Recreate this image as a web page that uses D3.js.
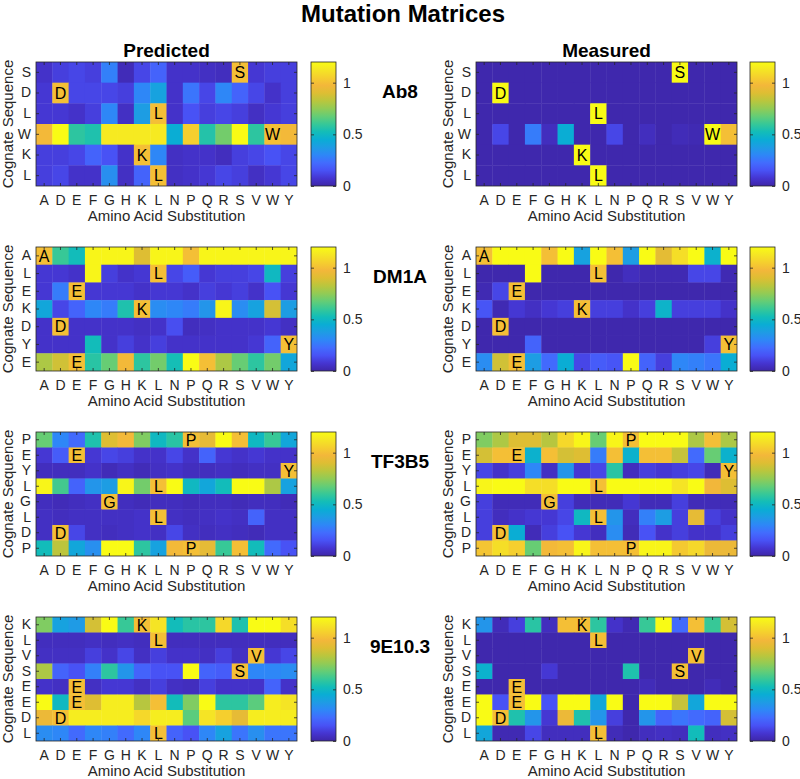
<!DOCTYPE html>
<html><head><meta charset="utf-8">
<script src="https://cdn.jsdelivr.net/npm/d3@7"></script>
<style>body{margin:0;background:#fff}svg{display:block;font-family:"Liberation Sans",Arial,Helvetica,sans-serif}</style>
</head><body><svg id="chart" width="800" height="779"></svg>
<script>
// ---------- DATA ----------
const chartTitle = "Mutation Matrices";
const columnTitles = ["Predicted", "Measured"];
const xAxisLabel = "Amino Acid Substitution";
const yAxisLabel = "Cognate Sequence";
const aminoAcids = ["A","D","E","F","G","H","K","L","N","P","Q","R","S","V","W","Y"];
const antibodies = ["Ab8","DM1A","TF3B5","9E10.3"];
const colorTicks = [0, 0.5, 1];
const colorMax = 1.2;

const ab8Seq = ["S","D","L","W","K","L"];
const ab8Pred = [
 [0.06,0.10,0.12,0.10,0.28,0.03,0.12,0.20,0.06,0.06,0.05,0.04,1.00,0.08,0.10,0.10],
 [0.08,1.00,0.12,0.12,0.12,0.10,0.30,0.40,0.06,0.25,0.12,0.30,0.20,0.12,0.06,0.10],
 [0.08,0.08,0.06,0.10,0.30,0.05,0.38,1.00,0.06,0.15,0.10,0.12,0.10,0.05,0.08,0.10],
 [0.98,1.20,0.58,0.55,1.14,1.14,1.14,1.14,0.45,1.05,0.56,0.70,1.20,0.58,1.00,0.98],
 [0.10,0.10,0.12,0.20,0.15,0.06,1.00,0.30,0.05,0.06,0.06,0.04,0.10,0.12,0.15,0.12],
 [0.10,0.12,0.06,0.06,0.33,0.05,0.20,1.00,0.05,0.06,0.08,0.12,0.10,0.05,0.08,0.12]
];
const ab8Meas = [
 [0.01,0.01,0.01,0.01,0.01,0.01,0.01,0.01,0.01,0.01,0.01,0.01,1.20,0.01,0.01,0.01],
 [0.01,1.20,0.01,0.01,0.01,0.01,0.01,0.01,0.01,0.01,0.01,0.01,0.01,0.01,0.01,0.01],
 [0.01,0.01,0.01,0.01,0.01,0.01,0.01,1.20,0.01,0.01,0.01,0.01,0.01,0.01,0.01,0.01],
 [0.01,0.12,0.01,0.27,0.04,0.45,0.01,0.01,0.12,0.01,0.04,0.01,0.03,0.02,1.20,1.00],
 [0.01,0.01,0.01,0.01,0.01,0.01,1.20,0.01,0.01,0.01,0.01,0.01,0.01,0.01,0.01,0.01],
 [0.01,0.01,0.01,0.01,0.01,0.01,0.01,1.20,0.01,0.01,0.01,0.01,0.01,0.01,0.01,0.01]
];

const dm1aSeq = ["A","L","E","K","D","Y","E"];
const dm1aPred = [
 [1.00,0.60,0.52,1.18,1.18,1.18,0.90,1.18,1.18,1.00,1.18,1.18,1.18,1.18,1.18,1.18],
 [0.08,0.08,0.06,1.18,0.10,0.06,0.08,1.00,0.12,0.18,0.08,0.10,0.10,0.12,0.50,0.10],
 [0.08,0.27,1.00,0.08,0.08,0.08,0.06,0.08,0.08,0.06,0.10,0.08,0.10,0.06,0.15,0.08],
 [0.42,0.12,0.20,0.30,0.27,0.55,1.00,0.32,0.30,0.27,0.35,1.18,0.32,0.40,0.88,0.38],
 [0.06,1.00,0.06,0.06,0.06,0.06,0.05,0.06,0.14,0.04,0.05,0.06,0.06,0.06,0.08,0.05],
 [0.06,0.06,0.06,0.52,0.06,0.10,0.06,0.10,0.06,0.06,0.06,0.06,0.06,0.08,0.20,1.00],
 [0.80,0.87,1.00,0.57,0.68,0.98,0.58,0.70,0.53,1.20,1.00,0.80,0.68,0.58,0.70,0.42]
];
const dm1aMeas = [
 [1.00,1.20,1.20,1.20,1.00,1.20,0.40,1.20,1.00,0.38,1.20,0.92,1.10,1.20,0.47,1.20],
 [0.01,0.01,0.01,1.20,0.01,0.01,0.01,1.00,0.01,0.04,0.02,0.02,0.02,0.12,0.12,0.02],
 [0.02,0.12,1.00,0.01,0.01,0.01,0.01,0.01,0.01,0.01,0.01,0.01,0.01,0.01,0.01,0.01],
 [0.16,0.02,0.08,0.05,0.08,0.10,1.00,0.10,0.10,0.06,0.10,0.48,0.10,0.10,0.10,0.06],
 [0.01,1.00,0.01,0.01,0.01,0.01,0.01,0.01,0.01,0.01,0.01,0.01,0.01,0.01,0.01,0.01],
 [0.01,0.01,0.01,0.20,0.01,0.01,0.01,0.01,0.01,0.01,0.01,0.01,0.01,0.01,0.10,1.00],
 [0.32,0.87,1.00,0.38,0.22,0.45,0.12,0.18,0.16,1.20,0.20,0.10,0.30,0.28,0.25,0.45]
];

const tf3b5Seq = ["P","E","Y","L","G","L","D","P"];
const tf3b5Pred = [
 [0.68,0.30,0.22,0.55,0.90,0.98,0.72,0.50,0.57,1.00,0.93,1.20,1.00,0.50,0.60,0.42],
 [0.08,0.18,1.00,0.08,0.12,0.10,0.06,0.06,0.12,0.06,0.20,0.08,0.06,0.08,0.06,0.06],
 [0.04,0.04,0.04,0.06,0.03,0.05,0.03,0.05,0.06,0.04,0.04,0.05,0.04,0.05,0.05,1.00],
 [1.18,0.62,0.20,0.35,0.38,1.18,0.70,1.00,1.20,0.50,0.42,0.52,1.20,1.20,0.80,0.40],
 [0.04,0.03,0.04,0.05,1.00,0.04,0.03,0.04,0.04,0.03,0.04,0.04,0.03,0.04,0.04,0.03],
 [0.05,0.04,0.05,0.05,0.05,0.05,0.06,1.00,0.05,0.04,0.05,0.06,0.05,0.20,0.05,0.05],
 [0.05,1.00,0.12,0.05,0.04,0.05,0.06,0.05,0.12,0.05,0.04,0.05,0.04,0.03,0.05,0.05],
 [0.52,0.83,0.42,0.33,1.20,1.20,0.58,0.40,0.98,1.00,0.93,0.60,1.00,0.52,0.22,0.15]
];
const tf3b5Meas = [
 [0.72,0.80,0.90,0.90,0.82,1.08,1.18,0.68,1.18,1.00,1.20,1.20,1.20,0.80,1.00,0.80],
 [0.88,1.00,1.00,0.47,1.00,0.88,0.90,0.27,1.00,0.47,1.00,1.00,0.85,0.22,0.68,0.47],
 [0.12,0.06,0.10,0.30,0.05,0.35,0.08,0.12,0.57,0.04,0.10,0.08,0.10,0.12,0.03,1.00],
 [1.18,1.20,1.20,1.10,1.10,1.20,1.20,1.00,1.20,1.20,1.20,1.20,1.12,1.20,0.97,0.90],
 [0.10,0.03,0.03,0.03,1.00,0.10,0.03,0.03,0.03,0.08,0.03,0.03,0.10,0.03,0.03,0.03],
 [0.10,0.04,0.06,0.08,0.08,0.12,0.50,1.00,0.35,0.04,0.28,0.38,0.10,0.93,0.10,0.06],
 [0.10,1.00,0.45,0.03,0.10,0.15,0.08,0.04,0.32,0.03,0.15,0.06,0.10,0.06,0.06,0.10],
 [1.02,1.10,1.05,0.68,0.98,1.00,1.18,1.00,1.00,1.00,1.18,1.18,1.03,1.08,0.95,0.95]
];

const e9e10Seq = ["K","L","V","S","E","E","D","L"];
const e9e10Pred = [
 [0.72,0.40,0.37,0.88,1.20,0.60,1.00,1.12,0.52,0.57,0.58,1.08,0.55,1.20,1.20,1.10],
 [0.04,0.04,0.04,0.05,0.04,0.05,0.04,1.00,0.04,0.04,0.04,0.04,0.04,0.04,0.04,0.04],
 [0.05,0.05,0.05,0.10,0.06,0.12,0.05,0.10,0.06,0.06,0.05,0.10,0.05,1.00,0.08,0.12],
 [0.80,0.20,0.15,0.28,0.58,0.35,0.20,0.15,0.15,1.20,0.20,0.18,1.00,0.30,0.30,0.32],
 [0.06,0.05,1.00,0.05,0.08,0.08,0.05,0.10,0.05,0.04,0.10,0.06,0.06,0.06,0.20,0.06],
 [1.20,0.50,1.00,0.90,1.15,1.15,0.82,1.00,0.52,0.72,1.20,0.58,0.58,0.66,1.15,1.12],
 [0.95,1.00,1.15,1.15,1.15,1.15,1.08,1.15,1.15,0.66,1.12,1.05,0.93,1.15,1.15,1.15],
 [0.32,0.30,0.22,0.30,0.28,0.22,0.30,1.00,0.20,0.15,0.30,0.40,0.25,0.33,0.25,0.25]
];
const e9e10Meas = [
 [0.35,0.03,0.10,0.57,0.04,1.00,1.00,0.58,0.06,0.02,0.60,1.20,0.22,1.00,0.60,0.88],
 [0.01,0.01,0.01,0.01,0.01,0.01,0.01,1.00,0.01,0.01,0.01,0.01,0.01,0.01,0.01,0.01],
 [0.01,0.01,0.01,0.01,0.01,0.01,0.01,0.01,0.01,0.01,0.01,0.01,0.01,1.00,0.01,0.01],
 [0.47,0.01,0.01,0.01,0.08,0.01,0.01,0.01,0.01,0.55,0.01,0.01,1.00,0.01,0.01,0.01],
 [0.01,0.01,1.00,0.01,0.01,0.01,0.01,0.01,0.01,0.01,0.03,0.01,0.01,0.01,0.03,0.01],
 [1.20,0.15,1.00,1.20,0.15,1.20,1.20,0.42,1.20,0.01,1.20,1.20,0.85,0.42,1.20,1.20],
 [1.20,1.00,0.55,0.35,0.08,0.95,0.55,0.35,0.10,0.01,0.35,0.20,0.25,0.22,0.20,0.88],
 [0.42,0.02,0.02,0.12,0.04,0.04,0.04,1.00,0.03,0.01,0.04,0.05,0.04,0.52,0.04,0.05]
];

// ---------- COLORMAP (parula-like) ----------
const parula = [[62,38,168],[69,53,209],[72,82,245],[66,108,254],[46,135,247],[30,156,228],[10,173,212],[19,189,184],[55,200,151],[100,205,118],[146,203,85],[186,198,61],[222,190,51],[243,183,58],[245,207,46],[245,230,36],[249,251,21]];
const color = d3.scaleLinear()
  .domain(parula.map((c,i)=> i/(parula.length-1)*colorMax))
  .range(parula.map(c=>`rgb(${c.join(",")})`))
  .clamp(true);

// ---------- LAYOUT ----------
const panels = [
  {name: antibodies[0], seq: ab8Seq, mats: [ab8Pred, ab8Meas]},
  {name: antibodies[1], seq: dm1aSeq, mats: [dm1aPred, dm1aMeas]},
  {name: antibodies[2], seq: tf3b5Seq, mats: [tf3b5Pred, tf3b5Meas]},
  {name: antibodies[3], seq: e9e10Seq, mats: [e9e10Pred, e9e10Meas]}
];
const plotW = 261, plotH = 124;
const colLeft = [36, 476];
const rowTop = [62, 247, 432, 617];
const cbLeft = [311, 750], cbW = 25;
const ink = "#262626";

const svg = d3.select("#chart");
svg.append("rect").attr("width",800).attr("height",779).attr("fill","#fff");

const defs = svg.append("defs");
const grad = defs.append("linearGradient").attr("id","parulaGrad")
  .attr("x1",0).attr("y1",1).attr("x2",0).attr("y2",0);
parula.forEach((c,i)=> grad.append("stop").attr("offset", i/(parula.length-1)).attr("stop-color", `rgb(${c.join(",")})`));

svg.append("text").attr("x",403).attr("y",22).attr("text-anchor","middle")
  .attr("font-size",24).attr("font-weight","bold").attr("fill","#000").text(chartTitle);
columnTitles.forEach((t,i)=>{
  svg.append("text").attr("x",colLeft[i]+plotW/2).attr("y",57).attr("text-anchor","middle")
    .attr("font-size",19).attr("font-weight","bold").attr("fill","#000").text(t);
});

function styleAxis(g){
  g.attr("font-family",null).attr("font-size",null);
  g.select(".domain").remove();
  g.selectAll(".tick line").attr("stroke",ink).attr("stroke-width",0.8);
  g.selectAll(".tick text").attr("fill",ink).attr("font-size",14);
}

panels.forEach((p,pi)=>{
  const top = rowTop[pi];
  const y = d3.scaleBand().domain(d3.range(p.seq.length)).range([top, top+plotH]);
  svg.append("text").attr("x",400).attr("y",top+36).attr("text-anchor","middle")
    .attr("font-size",19).attr("font-weight","bold").attr("fill","#000").text(p.name);

  p.mats.forEach((mat,mi)=>{
    const left = colLeft[mi];
    const x = d3.scaleBand().domain(aminoAcids).range([left, left+plotW]);
    const g = svg.append("g");
    const cells = mat.flatMap((row,ri)=> row.map((v,ci)=>({ri, v, res:p.seq[ri], aa:aminoAcids[ci]})));
    g.selectAll("rect.cell").data(cells).join("rect").attr("class","cell")
      .attr("x",d=>x(d.aa)).attr("y",d=>y(d.ri))
      .attr("width",d=> x.bandwidth() + (d.aa==="Y"?0:0.4))
      .attr("height",d=> y.bandwidth() + (d.ri===p.seq.length-1?0:0.4))
      .attr("fill",d=>color(d.v));
    g.selectAll("text.cog").data(cells.filter(d=>d.res===d.aa)).join("text").attr("class","cog")
      .attr("x",d=>x(d.aa)+x.bandwidth()/2).attr("y",d=>y(d.ri)+y.bandwidth()/2)
      .attr("dy","0.36em").attr("text-anchor","middle").attr("font-size",16).attr("fill","#000")
      .text(d=>d.aa);

    g.append("g").attr("transform",`translate(0,${top+plotH})`)
      .call(d3.axisBottom(x).tickSizeInner(-3).tickSizeOuter(0).tickPadding(9)).call(styleAxis);
    g.append("g").attr("transform",`translate(0,${top})`)
      .call(d3.axisTop(x).tickSizeInner(-3).tickSizeOuter(0).tickFormat("")).call(styleAxis);
    g.append("g").attr("transform",`translate(${left},0)`)
      .call(d3.axisLeft(y).tickSizeInner(-3).tickSizeOuter(0).tickPadding(5).tickFormat(i=>p.seq[i])).call(styleAxis);
    g.append("g").attr("transform",`translate(${left+plotW},0)`)
      .call(d3.axisRight(y).tickSizeInner(-3).tickSizeOuter(0).tickFormat("")).call(styleAxis);
    g.append("rect").attr("x",left).attr("y",top).attr("width",plotW).attr("height",plotH)
      .attr("fill","none").attr("stroke",ink).attr("stroke-width",0.8);

    g.append("text").attr("x",left+plotW/2).attr("y",top+plotH+35).attr("text-anchor","middle")
      .attr("font-size",15).attr("fill",ink).text(xAxisLabel);
    g.append("text").attr("transform",`translate(${left-23},${top+plotH/2}) rotate(-90)`)
      .attr("text-anchor","middle").attr("font-size",15).attr("fill",ink).text(yAxisLabel);

    // colorbar
    const cb = d3.scaleLinear().domain([0,colorMax]).range([top+plotH, top]);
    const cx = cbLeft[mi];
    g.append("rect").attr("x",cx).attr("y",top).attr("width",cbW).attr("height",plotH)
      .attr("fill","url(#parulaGrad)");
    g.append("g").attr("transform",`translate(${cx+cbW},0)`)
      .call(d3.axisRight(cb).tickValues(colorTicks).tickSizeInner(-3).tickSizeOuter(0).tickPadding(7).tickFormat(d=>String(d))).call(styleAxis);
    g.append("g").attr("transform",`translate(${cx},0)`)
      .call(d3.axisLeft(cb).tickValues(colorTicks).tickSizeInner(-3).tickSizeOuter(0).tickFormat("")).call(styleAxis);
    g.append("rect").attr("x",cx).attr("y",top).attr("width",cbW).attr("height",plotH)
      .attr("fill","none").attr("stroke",ink).attr("stroke-width",0.8);
  });
});
</script></body></html>
